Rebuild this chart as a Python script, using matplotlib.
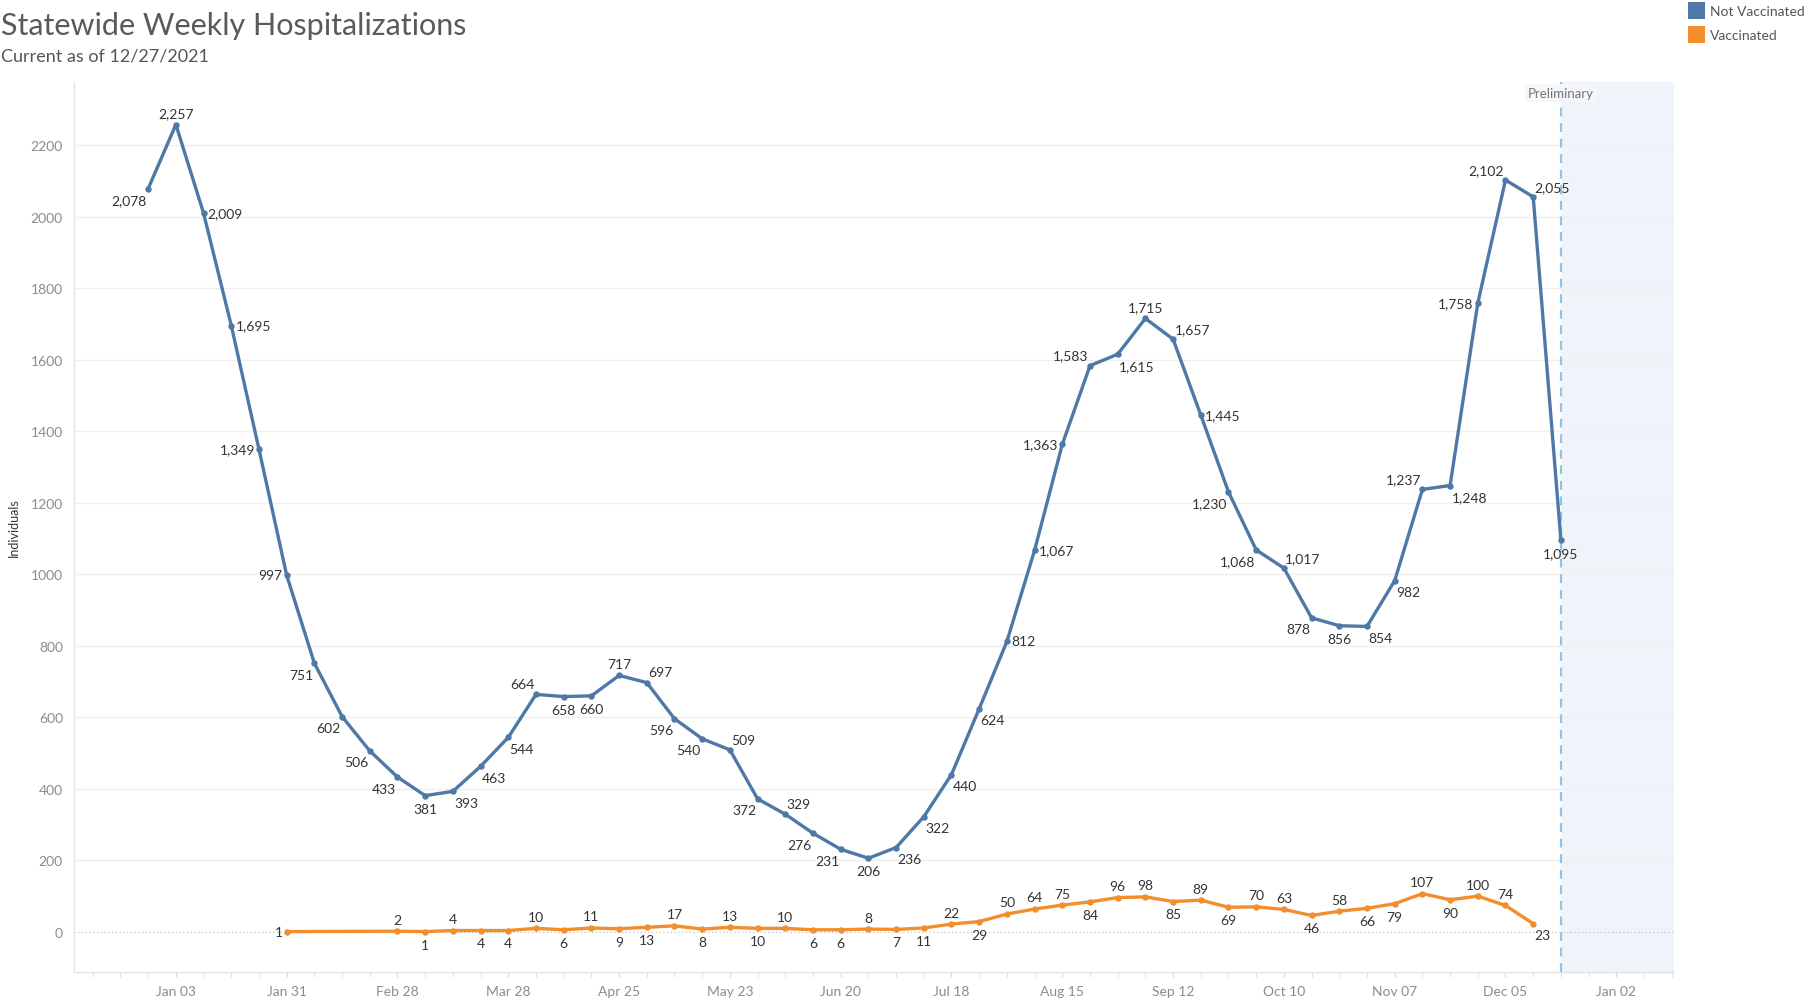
import matplotlib
matplotlib.use("Agg")
import matplotlib.pyplot as plt
import matplotlib.dates as mdates
import pandas as pd
import numpy as np
from matplotlib.patches import Rectangle

plt.rcParams['font.family'] = ['Lato', 'DejaVu Sans']

# ---------------- data ----------------
not_vacc_weeks = pd.date_range('2020-12-27', periods=52, freq='7D')
not_vacc = [2078, 2257, 2009, 1695, 1349, 997, 751, 602, 506, 433,
            381, 393, 463, 544, 664, 658, 660, 717, 697, 596,
            540, 509, 372, 329, 276, 231, 206, 236, 322, 440,
            624, 812, 1067, 1363, 1583, 1615, 1715, 1657, 1445, 1230,
            1068, 1017, 878, 856, 854, 982, 1237, 1248, 1758, 2102,
            2055, 1095]

vacc_weeks = pd.DatetimeIndex(['2021-01-31']).append(
    pd.date_range('2021-02-28', '2021-12-12', freq='7D'))
vacc = [1, 2, 1, 4, 4, 4, 10, 6, 11, 9, 13, 17, 8, 13, 10, 10, 6, 6, 8, 7,
        11, 22, 29, 50, 64, 75, 84, 96, 98, 85, 89, 69, 70, 63, 46, 58, 66,
        79, 107, 90, 100, 74, 23]

tick_dates = pd.date_range('2021-01-03', '2022-01-02', freq='28D')
y_ticks = list(range(0, 2201, 200))
prelim_date = pd.Timestamp('2021-12-19')

# label placement (style)
nv_pos = ['bl', 'a', 'r', 'r', 'l', 'l', 'bl', 'bl', 'bl', 'bl',
          'b', 'br', 'br', 'br', 'al', 'b', 'b', 'a', 'ar', 'bl',
          'bl', 'ar', 'bl', 'ar', 'bl', 'bl', 'b', 'br', 'br', 'br',
          'br', 'r', 'r', 'l', 'al', 'br', 'a', 'ar', 'r', 'bl',
          'bl', 'ar', 'bl', 'b', 'br', 'br', 'al', 'br', 'l', 'al',
          'ar', 'b']
v_pos = ['l', 'a', 'b', 'a', 'b', 'b', 'a', 'b', 'a', 'b', 'b', 'a', 'b', 'a',
         'b', 'a', 'b', 'b', 'a', 'b', 'b', 'a', 'b', 'a', 'a', 'a', 'b', 'a',
         'a', 'b', 'a', 'b', 'a', 'a', 'b', 'a', 'b', 'b', 'a', 'b', 'a', 'a', 'br']

BLUE = '#4e79a7'
ORANGE = '#f28e2b'
TXT = '#333333'
GRAY = '#8c8c8c'

fig = plt.figure(figsize=(18.13, 10.04), dpi=100)
ax = fig.add_axes([74 / 1813, 31 / 1004, 1600 / 1813, 890 / 1004])

xmin = pd.Timestamp('2020-12-08 06:00')
xmax = pd.Timestamp('2022-01-16 14:00')
ax.set_xlim(xmin, xmax)
ax.set_ylim(-112, 2376)

# preliminary band
ax.axvspan(prelim_date, xmax, color='#eef4f9', zorder=0, lw=0)
ax.axvline(prelim_date, color='#8fc3ea', ls=(0, (4, 3)), lw=1.6, zorder=1)
ax.text(prelim_date, 2345, 'Preliminary', ha='center', va='center',
        fontsize=9.5, color='#777777', zorder=2,
        bbox=dict(facecolor='#f6f7f9', edgecolor='none', pad=2, alpha=0.9))

# gridlines
for yv in y_ticks:
    if yv == 0:
        ax.axhline(0, color='#c4c4c4', ls=(0, (1, 2)), lw=0.9, zorder=1)
    else:
        ax.axhline(yv, color='#efefef', lw=0.9, zorder=0.5)

ax.plot(not_vacc_weeks, not_vacc, color=BLUE, lw=2.4, marker='o', ms=3.6,
        zorder=3, solid_joinstyle='round')
ax.plot(vacc_weeks, vacc, color=ORANGE, lw=2.4, marker='o', ms=3.6,
        zorder=3, solid_joinstyle='round')

offs = {
    'a': ((0, 4), 'center', 'bottom'),
    'b': ((0, -5), 'center', 'top'),
    'l': ((-3, 0), 'right', 'center'),
    'r': ((3, 0), 'left', 'center'),
    'al': ((-1, 3), 'right', 'bottom'),
    'ar': ((1, 3), 'left', 'bottom'),
    'bl': ((-1, -4), 'right', 'top'),
    'br': ((1, -4), 'left', 'top'),
}


def label(xs, ys, poss):
    for x, y, p in zip(xs, ys, poss):
        (dx, dy), ha, va = offs[p]
        ax.annotate(f'{y:,}', (x, y), xytext=(dx, dy), textcoords='offset points',
                    ha=ha, va=va, fontsize=10, color=TXT, zorder=4)


label(not_vacc_weeks, not_vacc, nv_pos)
label(vacc_weeks, vacc, v_pos)

# axes styling
for s in ['top', 'right']:
    ax.spines[s].set_visible(False)
for s in ['left', 'bottom']:
    ax.spines[s].set_color('#e3e3e3')
    ax.spines[s].set_linewidth(0.9)

ax.set_yticks(y_ticks)
ax.set_yticklabels([str(v) for v in y_ticks])
ax.tick_params(axis='y', length=0, labelsize=10, labelcolor=GRAY, pad=8)

ax.set_xticks(tick_dates)
ax.xaxis.set_major_formatter(mdates.DateFormatter('%b %d'))
ax.xaxis.set_minor_locator(mdates.WeekdayLocator(byweekday=mdates.SU))
ax.tick_params(axis='x', which='both', length=3.5, color='#d9d9d9',
               labelsize=10, labelcolor=GRAY, pad=6)

ax.set_ylabel('Individuals', fontsize=9, color=TXT)
ax.yaxis.set_label_coords(-0.034, 0.5)

# title & subtitle
fig.text(1 / 1813, 1 - 26 / 1004, 'Statewide Weekly Hospitalizations',
         fontsize=22, color='#5a5a5a', ha='left', va='center')
fig.text(1 / 1813, 1 - 56 / 1004, 'Current as of 12/27/2021',
         fontsize=13, color='#555555', ha='left', va='center')

# legend
for i, (lab, col) in enumerate([('Not Vaccinated', BLUE), ('Vaccinated', ORANGE)]):
    y0 = 3 + i * 24
    fig.patches.append(Rectangle((1688 / 1813, 1 - (y0 + 17) / 1004), 17 / 1813, 17 / 1004,
                                 transform=fig.transFigure, facecolor=col, edgecolor='none'))
    fig.text(1710 / 1813, 1 - (y0 + 9) / 1004, lab, fontsize=10, color='#555555',
             ha='left', va='center')

fig.savefig('out.png', dpi=100)
